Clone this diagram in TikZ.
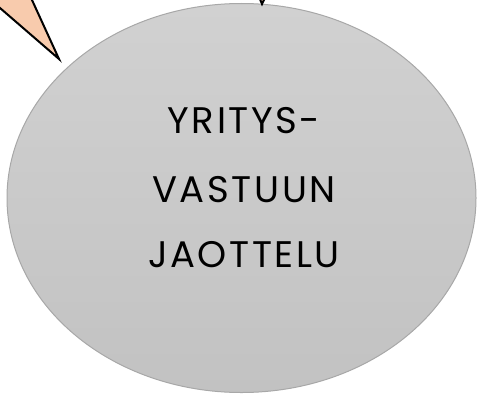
\documentclass[tikz,border=0pt]{standalone}
\usepackage{fontspec}
\setmainfont{Poppins}
\newfontfamily\valifont[LetterSpace=7]{Poppins}
\usetikzlibrary{shapes.geometric}
\definecolor{lohi}{HTML}{F8CBAD}
\definecolor{harmaaYla}{HTML}{D1D1D1}
\definecolor{harmaaAla}{HTML}{C2C2C2}
\definecolor{reuna}{HTML}{A8A8A8}
\begin{document}
\begin{tikzpicture}[x=1pt,y=-1pt]
% Styles
\tikzstyle{pallo}=[ellipse,draw=reuna,line width=1pt,top color=harmaaYla,bottom color=harmaaAla,minimum width=469pt,minimum height=389pt,inner sep=0pt]
\tikzstyle{piikki}=[fill=lohi,draw=black,line width=2pt,line join=miter]
\tikzstyle{rivi}=[anchor=base,inner sep=0pt,font=\valifont\fontsize{37}{40}\selectfont]
% Cadre
\useasboundingbox (0,0) rectangle (478,396);
\clip (0,0) rectangle (478,396);
% Noeuds
\node[pallo] (vastuu) at (241.5,198) {};
\node[rivi] (r1) at (244,133) {YRITYS-};
\node[rivi] (r2) at (244,202) {VASTUUN};
\node[rivi] (r3) at (244,267) {JAOTTELU};
% Piikit
\coordinate (karki1) at (59,59);
\coordinate (karki2) at (262,4);
\draw[piikki] (-59,-43) -- (karki1) -- (5,-59);
\draw[piikki] (252,-20) -- (karki2) -- (276,-25);
\end{tikzpicture}
\end{document}
